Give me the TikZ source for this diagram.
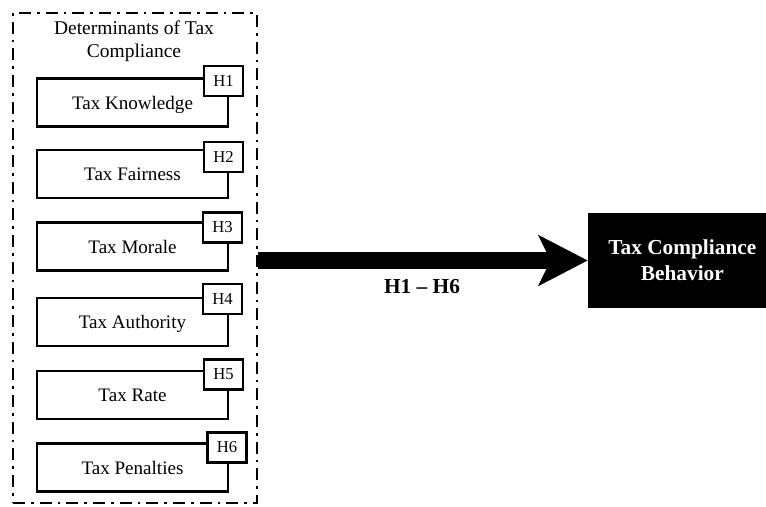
\documentclass[tikz,border=0pt]{standalone}
\usepackage{fontspec}
\setmainfont{Liberation Serif}
\usetikzlibrary{arrows.meta}
\begin{document}
\begin{tikzpicture}[x=0.75pt,y=-0.75pt,
  frame/.style={draw=black,line width=2.1pt,dash pattern=on 9pt off 4.5pt on 2pt off 4.5pt,minimum width=183pt,minimum height=367.5pt,inner sep=0pt},
  factor/.style={draw=black,line width=2.1pt,fill=white,minimum width=143.25pt,minimum height=36pt,inner sep=0pt,font=\fontsize{14.3}{16.8}\selectfont,text depth=0pt},
  hyp/.style={draw=black,line width=2.1pt,fill=white,minimum width=29.25pt,minimum height=22.5pt,inner sep=0pt,font=\fontsize{12.5}{14}\selectfont},
  outcome/.style={fill=black,text=white,minimum width=133.5pt,minimum height=71.25pt,inner sep=0pt,align=center,font=\fontsize{16}{19.5}\selectfont\bfseries},
  bigarrow/.style={line width=12.75pt,-{Stealth[length=36.75pt,width=37.5pt,inset=9pt]}}
]
\useasboundingbox (0,0) rectangle (766,506);
\node[frame] (grp) at (135,258) {};
\node[align=center,font=\fontsize{14.6}{17.25}\selectfont] (title) at (134,41) {Determinants of Tax\\Compliance};
\node[factor] (f1) at (132.5,102.5) {Tax Knowledge};
\node[factor] (f2) at (132.5,174) {Tax Fairness};
\node[factor] (f3) at (132.5,246.5) {Tax Morale};
\node[factor] (f4) at (132.5,322) {Tax Authority};
\node[factor] (f5) at (132.5,395) {Tax Rate};
\node[factor] (f6) at (132.5,467.5) {Tax Penalties};
\node[hyp] (h1) at (223.5,81) {H1};
\node[hyp] (h2) at (223.5,157) {H2};
\node[hyp] (h3) at (222.5,227.5) {H3};
\node[hyp] (h4) at (222.5,299) {H4};
\node[hyp] (h5) at (223.5,374.5) {H5};
\node[hyp] (h6) at (227,447.5) {H6};
\node[outcome] (out) at (677,260.5) {\hspace*{8pt}Tax Compliance\\\hspace*{8pt}Behavior};
\coordinate (start) at (grp.east |- out.west);
\draw[bigarrow] (start) -- (out.west);
\node[font=\fontsize{16}{19}\selectfont\bfseries] (lab) at (422,287) {H1 – H6};
\end{tikzpicture}
\end{document}
